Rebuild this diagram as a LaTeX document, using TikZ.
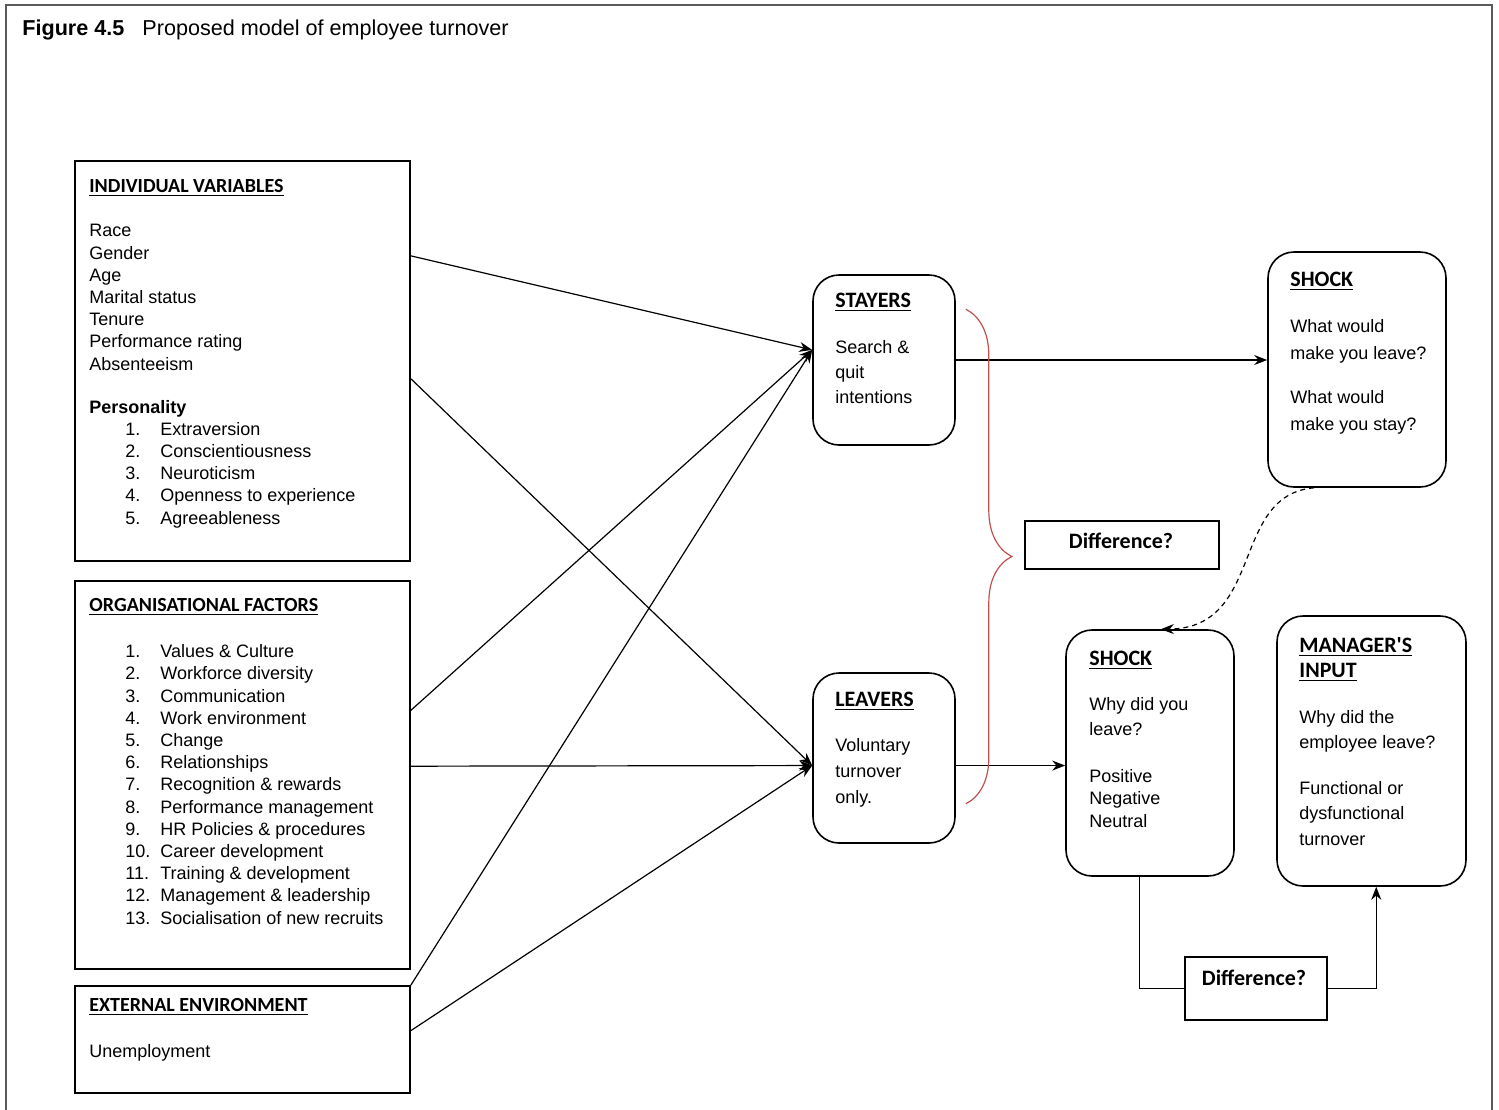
\documentclass[tikz,border=0pt]{standalone}
\usepackage{fontspec}
\setmainfont{Liberation Sans}
\newfontfamily\calfont{Carlito}
\usetikzlibrary{arrows.meta,calc,fit,decorations.pathreplacing}

\definecolor{bracered}{RGB}{192,80,77}
\definecolor{framegray}{RGB}{90,90,90}
\newcommand{\itm}[2]{\makebox[17.5pt][l]{#1}#2}

% text nodes sit on the baseline of their last line
\tikzset{
  sqbox/.style={draw, line width=0.8pt, inner sep=0pt},
  rbox/.style={draw, line width=0.8pt, inner sep=0pt, rounded corners=13pt},
  hdl/.style={anchor=base west, inner sep=0pt, font=\fontsize{10}{12}\calfont\bfseries},
  hdr/.style={anchor=base west, inner sep=0pt, align=left, font=\fontsize{11}{12.5}\calfont\bfseries},
  difftxt/.style={inner sep=0pt, font=\fontsize{11}{13}\calfont\bfseries},
  txtl/.style={anchor=base west, inner sep=0pt, align=left, font=\fontsize{9}{11.1}\selectfont},
  txtr/.style={anchor=base west, inner sep=0pt, align=left, font=\fontsize{9}{#1}\selectfont},
  link/.style={line width=0.6pt, -{Stealth[length=6.5pt,width=5pt]}},
}

\begin{document}
\begin{tikzpicture}[x=0.5pt,y=-0.5pt]
    \useasboundingbox (0,0) rectangle (1499,1109);
    \draw[framegray, line width=1pt] (6,5) rectangle (1492,1130);
    \node (title) [anchor=base west, inner sep=0pt, font=\fontsize{10.8}{13}\selectfont] at (22,35)
        {\textbf{Figure 4.5}\hspace{9pt}Proposed model of employee turnover};

    % boxes
    \node (indiv) [sqbox, fit={(75,161) (410,561)}] {};
    \node (org) [sqbox, fit={(75,581) (410,969)}] {};
    \node (extern) [sqbox, fit={(75,986) (410,1093)}] {};
    \node (stayers) [rbox, fit={(813,275) (955,445)}] {};
    \node (leavers) [rbox, fit={(813,673) (955,843)}] {};
    \node (shockA) [rbox, fit={(1268,252) (1446,487)}] {};
    \node (shockB) [rbox, fit={(1066,630) (1234,876)}] {};
    \node (manager) [rbox, fit={(1277,616) (1466,886)}] {};
    \node (diffA) [sqbox, fit={(1025,521) (1219,569)}] {};
    \node (diffAtxt) [difftxt] at (1121,541) {Difference?};
    \node (diffB) [sqbox, fit={(1185,957) (1327,1020)}] {};
    \node (diffBtxt) [difftxt] at (1254,978) {Difference?};

    % left texts
    \node (indivhd) [hdl] at (89,192) {\underline{INDIVIDUAL VARIABLES}};
    \node (indivtxt) [txtl] at (89,370) {Race\\Gender\\Age\\Marital status\\Tenure\\Performance rating\\Absenteeism};
    \node (perstxt) [txtl, font=\fontsize{9}{11.1}\selectfont\bfseries] at (89,413) {Personality};
    \node (perslist) [txtl] at (125,524) {\itm{1.}{Extraversion}\\\itm{2.}{Conscientiousness}\\
        \itm{3.}{Neuroticism}\\\itm{4.}{Openness to experience}\\\itm{5.}{Agreeableness}};
    \node (orghd) [hdl] at (89,611) {\underline{ORGANISATIONAL FACTORS}};
    \node (orglist) [txtl] at (125,924) {\itm{1.}{Values \& Culture}\\\itm{2.}{Workforce diversity}\\
        \itm{3.}{Communication}\\\itm{4.}{Work environment}\\\itm{5.}{Change}\\\itm{6.}{Relationships}\\
        \itm{7.}{Recognition \& rewards}\\\itm{8.}{Performance management}\\\itm{9.}{HR Policies \& procedures}\\
        \itm{10.}{Career development}\\\itm{11.}{Training \& development}\\\itm{12.}{Management \& leadership}\\
        \itm{13.}{Socialisation of new recruits}};
    \node (exthd) [hdl] at (89,1011) {\underline{EXTERNAL ENVIRONMENT}};
    \node (exttxt) [txtl] at (89,1057) {Unemployment};

    % right texts
    \node (stayhd) [hdr] at (835,307) {\underline{STAYERS}};
    \node (staytxt) [txtr=12.5] at (835,403) {Search \&\\quit\\intentions};
    \node (leavhd) [hdr] at (835,706) {\underline{LEAVERS}};
    \node (leavtxt) [txtr=13] at (835,803) {Voluntary\\turnover\\only.};
    \node (shockAhd) [hdr] at (1290,286) {\underline{SHOCK}};
    \node (shockAtxt) [txtr=13.5] at (1290,359) {What would\\make you leave?};
    \node (shockAtxtb) [txtr=13.5] at (1290,430) {What would\\make you stay?};
    \node (shockBhd) [hdr] at (1089,665) {\underline{SHOCK}};
    \node (shockBtxt) [txtr=12.5] at (1089,735) {Why did you\\leave?};
    \node (shockBtxtb) [txtr=11.25] at (1089,827) {Positive\\Negative\\Neutral};
    \node (manhd) [hdr] at (1299,677) {\underline{MANAGER'S}\\\underline{INPUT}};
    \node (mantxt) [txtr=12.5] at (1299,748) {Why did the\\employee leave?};
    \node (mantxtb) [txtr=12.75] at (1299,845) {Functional or\\dysfunctional\\turnover};

    % connectors
    \draw[link] (indiv.32.8) -- (stayers.172);
    \draw[link] (indiv.-6.5) -- (leavers.186);
    \draw[link] (org.21.2) -- (stayers.172);
    \draw[link] (org.3.4) -- (leavers.186);
    \draw[link] (extern.north east) -- (stayers.172);
    \draw[link] (extern.3.9) -- (leavers.186);
    \draw[link] (stayers.east) -- (stayers.east -| shockA.west);
    \draw[link] (leavers.354) -- (leavers.354 -| shockB.west);
    \draw[line width=0.6pt] (shockB.265) |- (diffB.west);
    \draw[link] (diffB.east) -| (manager.272);
    \draw[link, dash pattern=on 2.5pt off 2pt] (shockA.250) .. controls (1230,495) and (1265,628) .. (shockB.85);
    \draw[bracered, line width=0.6pt, decorate, decoration={brace, amplitude=23pt}]
        ($(stayers.north east)+(10,35)$) -- ($(leavers.south east)+(10,-40)$);
\end{tikzpicture}
\end{document}
